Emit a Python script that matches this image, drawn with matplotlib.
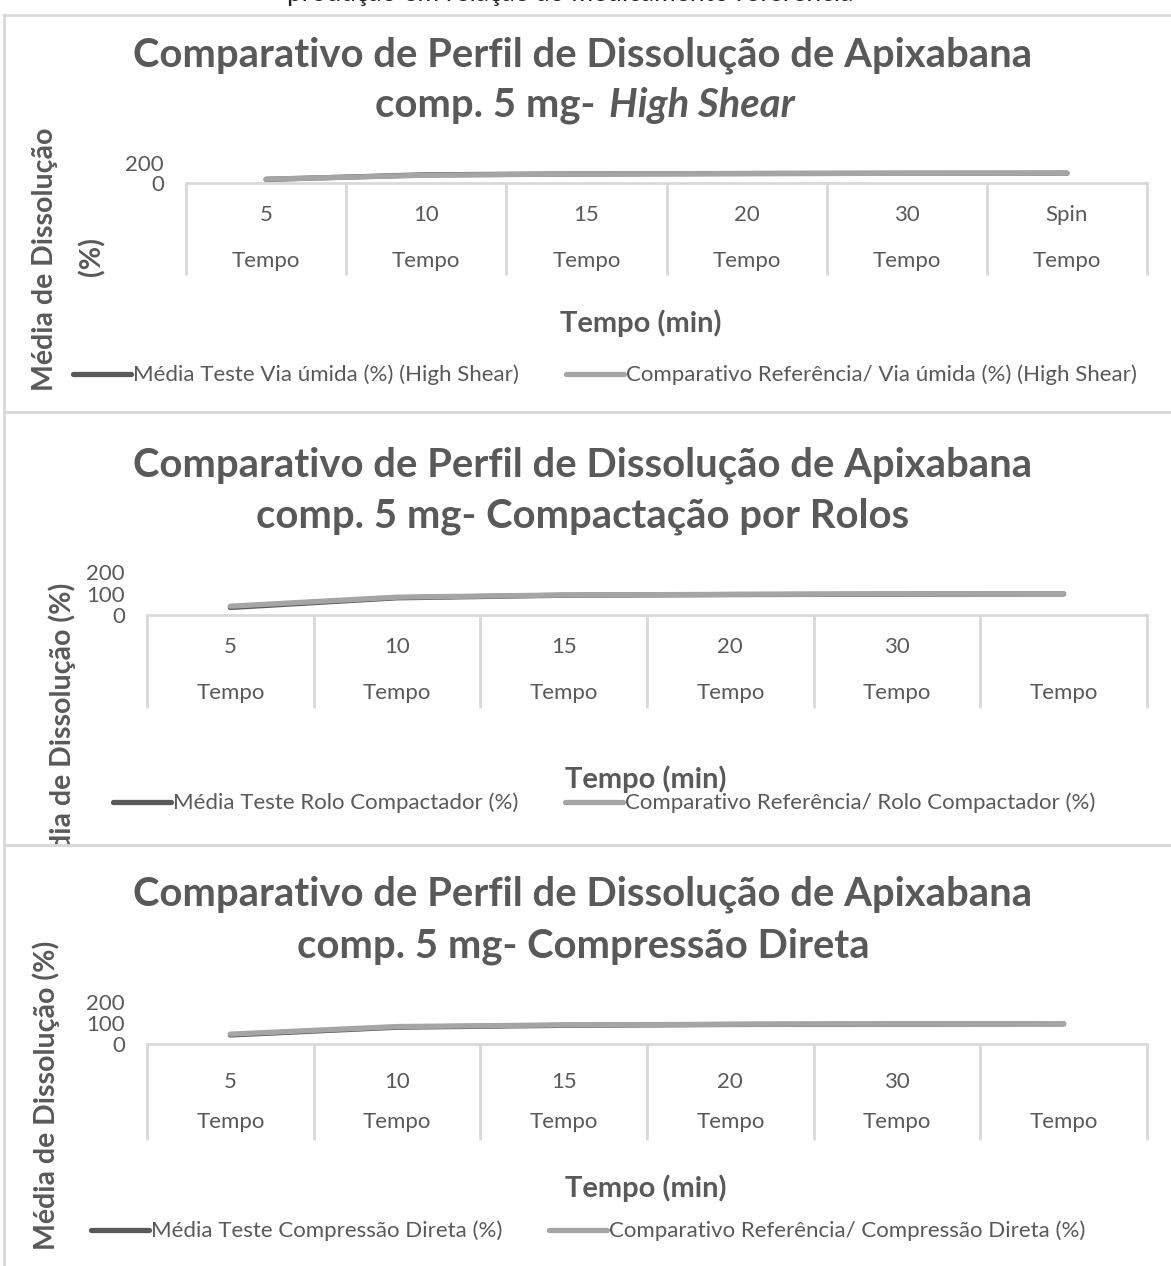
import matplotlib
matplotlib.use('Agg')
import matplotlib.pyplot as plt
import matplotlib.transforms as mtransforms
import numpy as np

plt.rcParams['font.family'] = ['Lato', 'DejaVu Sans']

W, H = 1171, 1266
CINZA_TXT = '#595959'
CINZA_BORDA = '#d9d9d9'
COR_TESTE = '#595959'
COR_REF = '#a5a5a5'

# dados (% dissolvido)
tempos_hs = ['5', '10', '15', '20', '30', 'Spin']
tempos_rc = ['5', '10', '15', '20', '30', '']
tempos_cd = ['5', '10', '15', '20', '30', '']
teste_hs = [36, 82, 91, 95, 97, 98]
ref_hs = [38, 78, 90, 94, 97, 98]
teste_rc = [35, 80, 92, 95, 97, 98]
ref_rc = [41, 83, 93, 96, 98, 99]
teste_cd = [43, 80, 89, 93, 95, 96]
ref_cd = [47, 83, 91, 94, 96, 97]

titulo1 = 'Comparativo de Perfil de Dissolução de Apixabana'
sub_hs = ('comp. 5 mg- ', 'High Shear', 'italic')
sub_rc = ('comp. 5 mg- Compactação por Rolos', '', 'normal')
sub_cd = ('comp. 5 mg- Compressão Direta', '', 'normal')
leg_hs = ['Média Teste Via úmida (%) (High Shear)', 'Comparativo Referência/ Via úmida (%) (High Shear)']
leg_rc = ['Média Teste Rolo Compactador (%)', 'Comparativo Referência/ Rolo Compactador (%)']
leg_cd = ['Média Teste Compressão Direta (%)', 'Comparativo Referência/ Compressão Direta (%)']

fig = plt.figure(figsize=(W / 100, H / 100), dpi=100)
renderer = fig.canvas.get_renderer()


def fx(x):
    return x / W


def fy(y):
    return 1 - y / H


def painel(y0, y1):
    ax = fig.add_axes([fx(4), fy(y1), fx(1190 - 4), (y1 - y0) / H])
    ax.set_xticks([])
    ax.set_yticks([])
    ax.patch.set_alpha(0)
    for s in ax.spines.values():
        s.set_color(CINZA_BORDA)
        s.set_linewidth(2)
    return ax


def grafico(c):
    pn = painel(*c['painel'])
    # titulo
    fig.text(fx(583), fy(c['ty'][0]), titulo1, ha='center', va='center',
             fontsize=28.8, fontweight='bold', color=CINZA_TXT)
    a, b, estilo = c['sub']
    ta = fig.text(0, fy(c['ty'][1]), a, ha='left', va='center', fontsize=28.8,
                  fontweight='bold', color=CINZA_TXT)
    tb = fig.text(0, fy(c['ty'][1]), b, ha='left', va='center', fontsize=28.8,
                  fontweight='bold', style=estilo, color=CINZA_TXT)
    wa = ta.get_window_extent(renderer).width
    wb = tb.get_window_extent(renderer).width if b else 0
    x0 = 583 - (wa + wb) / 2
    ta.set_x(fx(x0))
    tb.set_x(fx(x0 + wa + 4))

    l, r, t, bt = c['area']
    ax = fig.add_axes([fx(l), fy(bt), fx(r - l), (bt - t) / H])
    n = len(c['cats'])
    x = np.arange(n)
    ax.plot(x, c['teste'], color=COR_TESTE, lw=3.8, solid_capstyle='round', label=c['leg'][0])
    ax.plot(x, c['ref'], color=COR_REF, lw=3.8, solid_capstyle='round', label=c['leg'][1])
    ax.set_xlim(-0.5, n - 0.5)
    ax.set_ylim(0, 200)
    ax.set_yticks(c['yt'])
    ax.set_xticks([])
    ax.tick_params(axis='y', length=0, pad=16, labelsize=16, labelcolor=CINZA_TXT)
    for s in ['top', 'right', 'left']:
        ax.spines[s].set_visible(False)
    ax.spines['bottom'].set_color(CINZA_BORDA)
    ax.spines['bottom'].set_linewidth(2)
    ax.patch.set_alpha(0)

    # eixo de categorias em dois niveis
    alt = bt - t
    tr = mtransforms.blended_transform_factory(ax.transData, ax.transAxes)
    fundo = -(c['sep'] - bt) / alt
    ax.vlines(np.arange(n + 1) - 0.5, fundo, 0, transform=tr, colors=CINZA_BORDA,
              lw=2, clip_on=False)
    for i, cat in enumerate(c['cats']):
        ax.text(i, -(c['ny'] - bt) / alt, cat, transform=tr, ha='center', va='center',
                fontsize=16, color=CINZA_TXT)
        ax.text(i, -(c['tpy'] - bt) / alt, 'Tempo', transform=tr, ha='center', va='center',
                fontsize=16, color=CINZA_TXT)

    fig.text(fx(c['xl'][0]), fy(c['xl'][1]), 'Tempo (min)', ha='center', va='center',
             fontsize=21, fontweight='bold', color=CINZA_TXT)
    for (px, py, s) in c['yl']:
        pn.text(fx(px), fy(py), s, transform=fig.transFigure, rotation=90, ha='center',
                va='center', fontsize=20.5, fontweight='bold', color=CINZA_TXT, clip_on=True)

    fig.legend(handles=ax.get_lines(), loc='center', bbox_to_anchor=(fx(c['lg'][0]), fy(c['lg'][1])),
               ncol=2, frameon=False, fontsize=16, labelcolor=CINZA_TXT,
               handlelength=2.6, handletextpad=0.1, columnspacing=2.1)


graficos = [
    dict(painel=(15, 412), ty=(55, 105), sub=sub_hs, area=(186, 1147, 163, 183),
         cats=tempos_hs, teste=teste_hs, ref=ref_hs, yt=[0, 200], sep=275, ny=215, tpy=261,
         xl=(641, 323), lg=(605, 375), leg=leg_hs,
         yl=[(45, 259, 'Média de Dissolução'), (92, 257, '(%)')]),
    dict(painel=(412, 845), ty=(465, 516), sub=sub_rc, area=(147, 1147, 572, 615),
         cats=tempos_rc, teste=teste_rc, ref=ref_rc, yt=[0, 100, 200], sep=708, ny=647, tpy=693,
         xl=(646, 779), lg=(604, 803), leg=leg_rc,
         yl=[(62, 737, 'Média de Dissolução (%)')]),
    dict(painel=(845, 1300), ty=(894, 946), sub=sub_cd, area=(147, 1147, 1002, 1044),
         cats=tempos_cd, teste=teste_cd, ref=ref_cd, yt=[0, 100, 200], sep=1140, ny=1082, tpy=1122,
         xl=(646, 1188), lg=(588, 1231), leg=leg_cd,
         yl=[(46, 1095, 'Média de Dissolução (%)')]),
]

for g in graficos:
    grafico(g)

# linha de texto cortada no topo da captura
fig.text(fx(570), fy(1), 'produção em relação ao medicamento referência', ha='center',
         va='baseline', fontsize=19, color='#222222')

fig.savefig('out.png', dpi=100)
